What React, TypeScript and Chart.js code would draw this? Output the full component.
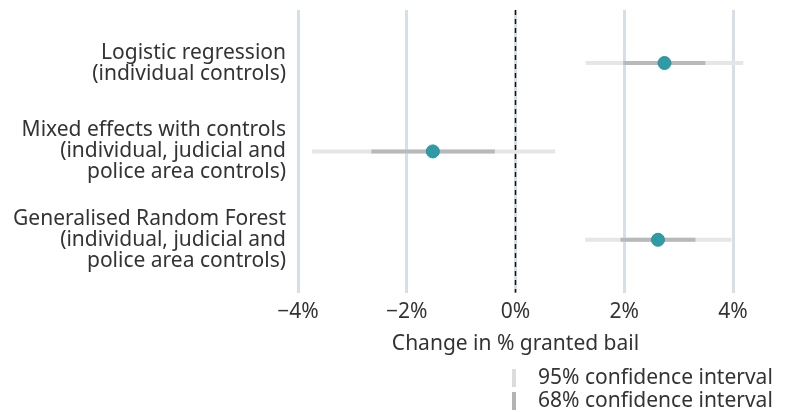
import React, { useEffect, useRef } from "react";
import { Chart, registerables } from "chart.js";

Chart.register(...registerables);

const models: string[][] = [
  ["Logistic regression", "(individual controls)"],
  ["Mixed effects with controls", "(individual, judicial and", "police area controls)"],
  ["Generalised Random Forest", "(individual, judicial and", "police area controls)"],
];
const estimates: number[] = [2.74, -1.52, 2.62];
const ci95Low: number[] = [1.29, -3.74, 1.28];
const ci95High: number[] = [4.19, 0.73, 3.97];
const ci68Low: number[] = [1.98, -2.65, 1.93];
const ci68High: number[] = [3.49, -0.38, 3.31];
const xTicks: number[] = [-4, -2, 0, 2, 4];
const legendLabels: string[] = ["95% confidence interval", "68% confidence interval"];

const FONT = "'Noto Sans', 'Open Sans', sans-serif";
const FS = 21;
const TEXT = "#333333";

function segments(lo: number[], hi: number[]) {
  const out: any[] = [];
  lo.forEach((l, i) => {
    out.push({ x: l, y: i });
    out.push({ x: hi[i], y: i });
    out.push({ x: hi[i], y: null });
  });
  return out;
}

const legendPlugin = {
  id: "ciLegend",
  afterDraw(chart: any) {
    const ctx = chart.ctx;
    const colors = ["#dcdcdc", "#b3b3b3"];
    ctx.save();
    ctx.font = `${FS}px ${FONT}`;
    ctx.textBaseline = "middle";
    ctx.textAlign = "left";
    legendLabels.forEach((t, i) => {
      const yc = 378 + i * 23;
      ctx.fillStyle = colors[i];
      ctx.fillRect(512, yc - 9, 4, 18);
      ctx.fillStyle = TEXT;
      ctx.fillText(t, 538, yc);
    });
    ctx.restore();
  },
};

export default function App() {
  const ref = useRef<HTMLCanvasElement>(null);
  useEffect(() => {
    if (!ref.current) return;
    const chart = new Chart(ref.current, {
      type: "scatter",
      data: {
        datasets: [
          {
            type: "line",
            order: 1,
            data: [
              { x: 0, y: -0.6 },
              { x: 0, y: 2.6 },
            ],
            borderColor: "#111111",
            borderWidth: 1.5,
            borderDash: [5, 4],
            pointRadius: 0,
            showLine: true,
          } as any,
          {
            type: "line",
            order: 3,
            clip: false,
            data: segments(ci95Low, ci95High),
            borderColor: "#e6e6e6",
            borderWidth: 4,
            borderCapStyle: "butt",
            pointRadius: 0,
            showLine: true,
            spanGaps: false,
          } as any,
          {
            type: "line",
            order: 2,
            clip: false,
            data: segments(ci68Low, ci68High),
            borderColor: "#b9b9b9",
            borderWidth: 4,
            borderCapStyle: "butt",
            pointRadius: 0,
            showLine: true,
            spanGaps: false,
          } as any,
          {
            type: "scatter",
            order: 0,
            clip: false,
            data: estimates.map((v, i) => ({ x: v, y: i })),
            backgroundColor: "#2e9ba6",
            borderColor: "#2a919c",
            borderWidth: 1,
            pointRadius: 6.5,
          } as any,
        ],
      },
      options: {
        animation: false,
        responsive: true,
        maintainAspectRatio: false,
        layout: { padding: { top: 10, right: 58, bottom: 55, left: 0 } },
        plugins: { legend: { display: false }, tooltip: { enabled: false } },
        scales: {
          x: {
            type: "linear",
            min: -4,
            max: 4,
            afterBuildTicks: (s: any) => {
              s.ticks = xTicks.map((v) => ({ value: v }));
            },
            afterFit: (s: any) => {
              s.paddingLeft = 0;
              s.paddingRight = 0;
            },
            grid: { color: "#d6dfe7", lineWidth: 3, drawTicks: false },
            border: { display: false },
            ticks: {
              padding: 9,
              color: TEXT,
              font: { family: FONT, size: FS, lineHeight: 1.0 },
              callback: (v: any) => (Number(v) < 0 ? "\u2212" + Math.abs(Number(v)) : String(v)) + "%",
            },
            title: {
              display: true,
              text: "Change in % granted bail",
              color: TEXT,
              font: { family: FONT, size: FS },
              padding: { top: 0, bottom: 0 },
            },
          },
          y: {
            type: "linear",
            min: -0.6,
            max: 2.6,
            reverse: true,
            afterBuildTicks: (s: any) => {
              s.ticks = models.map((_, i) => ({ value: i }));
            },
            afterFit: (s: any) => {
              s.width = 298;
              s.paddingTop = 0;
              s.paddingBottom = 0;
            },
            grid: { display: false },
            border: { display: false },
            ticks: {
              padding: 4,
              color: TEXT,
              font: { family: FONT, size: FS, lineHeight: 1.0 },
              callback: (v: any) => models[Number(v)] ?? "",
            },
          },
        },
      },
      plugins: [legendPlugin],
    });
    return () => chart.destroy();
  }, []);
  return (
    <div style={{ position: "fixed", left: 0, top: 0, width: 791, height: 412 }}>
      <canvas ref={ref} />
    </div>
  );
}
